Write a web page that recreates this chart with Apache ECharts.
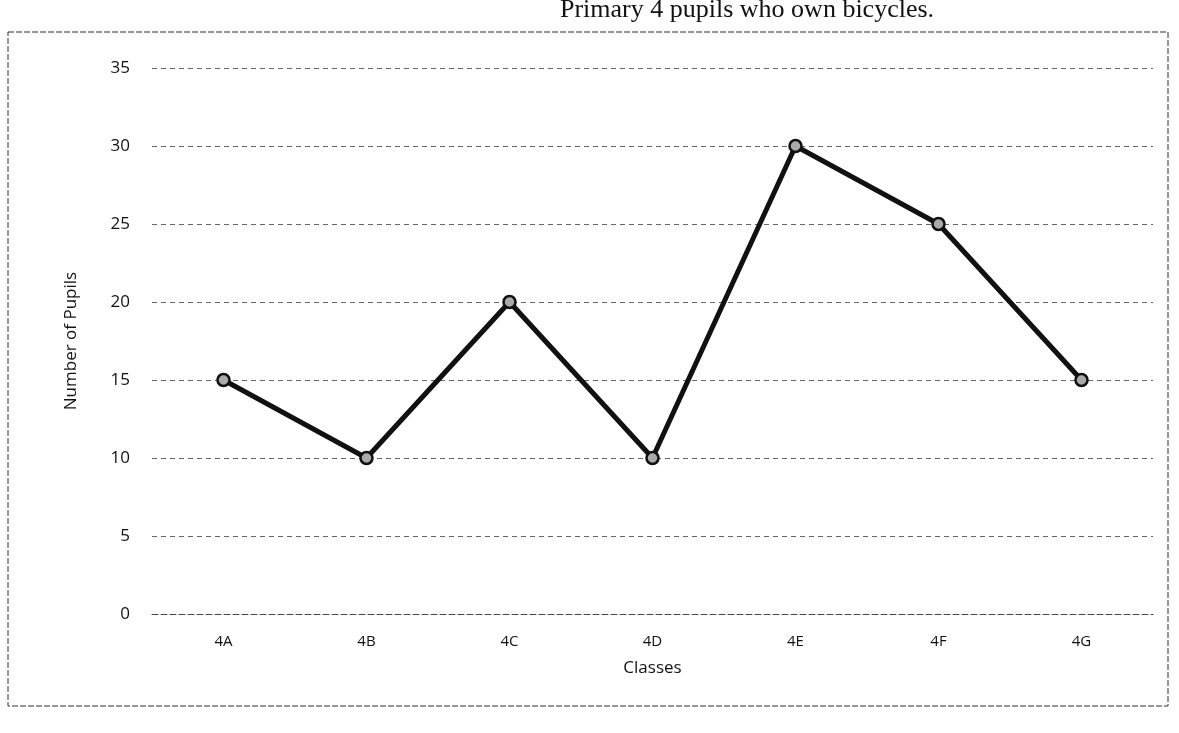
<!DOCTYPE html>
<html>
<head>
<meta charset="utf-8">
<script src="https://cdn.jsdelivr.net/npm/echarts@6/dist/echarts.min.js"></script>
<style>
html,body{margin:0;padding:0;background:#fff;}
#chart{width:1179px;height:733px;}
</style>
</head>
<body>
<div id="chart"></div>
<script>
const categories = ['4A','4B','4C','4D','4E','4F','4G'];
const pupils = [15, 10, 20, 10, 30, 25, 15];
const yTicks = { min: 0, max: 35, interval: 5 };

const chart = echarts.init(document.getElementById('chart'));
chart.setOption({
  backgroundColor: '#fff',
  animation: false,
  graphic: [
    { type: 'rect', shape: { x: 8, y: 32, width: 1160, height: 674 },
      style: { fill: 'none', stroke: '#333', lineWidth: 1, lineDash: [6, 2] } },
    { type: 'text', left: 560, top: -3,
      style: { text: 'Primary 4 pupils who own bicycles.', font: '26px "Liberation Serif", serif', fill: '#111' } }
  ],
  grid: { left: 152, right: 26, top: 68, bottom: 119 },
  xAxis: {
    type: 'category',
    data: categories,
    boundaryGap: true,
    name: 'Classes',
    nameLocation: 'middle',
    nameGap: 46,
    nameTextStyle: { fontSize: 17, color: '#111', fontFamily: 'Open Sans' },
    axisLine: { show: true, lineStyle: { color: '#444', type: [6, 3], width: 1 } },
    axisTick: { show: false },
    axisLabel: { fontSize: 15, color: '#111', margin: 20, fontFamily: 'Open Sans' }
  },
  yAxis: {
    type: 'value',
    min: yTicks.min, max: yTicks.max, interval: yTicks.interval,
    name: 'Number of Pupils',
    nameLocation: 'middle',
    nameGap: 72,
    nameRotate: 90,
    nameTextStyle: { fontSize: 17, color: '#111', fontFamily: 'Open Sans' },
    axisLine: { show: false },
    axisTick: { show: false },
    axisLabel: { fontSize: 17, color: '#111', margin: 22, fontFamily: 'Open Sans' },
    splitLine: { lineStyle: { color: '#666', type: [5, 4], width: 1 } }
  },
  series: [{
    type: 'line',
    data: pupils,
    symbol: 'circle',
    symbolSize: 12,
    lineStyle: { color: '#111', width: 5 },
    itemStyle: { color: '#aaa', borderColor: '#111', borderWidth: 2.5 }
  }]
});
</script>
</body>
</html>
